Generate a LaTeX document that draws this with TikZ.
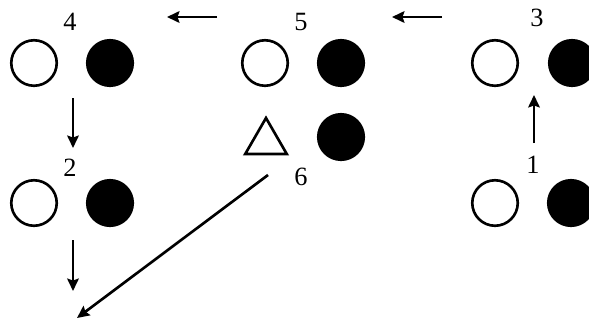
\documentclass[tikz,border=0pt]{standalone}
\usepackage{fontspec}
\setmainfont{Liberation Serif}
\usetikzlibrary{arrows.meta,shapes.geometric}

\begin{document}
\begin{tikzpicture}[>={Stealth[length=7pt,width=6.5pt,inset=1pt]},font=\fontsize{15}{17}\selectfont,
    opendot/.style={circle,draw,line width=1.5pt,minimum size=0.91cm,inner sep=0pt},
    fulldot/.style={opendot,fill=black},
    lab/.style={inner sep=0pt},
    arr/.style={->,line width=1.5pt}]
  \useasboundingbox (0,0) rectangle (11.78,6.40);
  % top row
  \node[opendot] (o4) at (0.68,5.14) {};
  \node[fulldot] (f4) at (2.20,5.14) {};
  \node[opendot] (o5) at (5.30,5.14) {};
  \node[fulldot] (f5) at (6.82,5.14) {};
  \node[opendot] (o3) at (9.90,5.14) {};
  \node[fulldot] (f3) at (11.44,5.14) {};
  % middle
  \node[regular polygon,regular polygon sides=3,draw,line width=1.5pt,
        minimum size=0.96cm,inner sep=0pt] (t6) at (5.32,3.56) {};
  \node[fulldot] (f6) at (6.82,3.66) {};
  % lower row
  \node[opendot] (o2) at (0.68,2.34) {};
  \node[fulldot] (f2) at (2.20,2.34) {};
  \node[opendot] (o1) at (9.90,2.34) {};
  \node[fulldot] (f1) at (11.42,2.34) {};
  % labels
  \node[lab] (l4) at (1.40,5.96) {4};
  \node[lab] (l5) at (6.02,5.96) {5};
  \node[lab] (l3) at (10.74,6.04) {3};
  \node[lab] (l2) at (1.40,3.04) {2};
  \node[lab] (l6) at (6.02,2.86) {6};
  \node[lab] (l1) at (10.66,3.10) {1};
  % arrow ends
  \coordinate (a1) at (4.34,6.06);  \coordinate (b1) at (3.34,6.06);
  \coordinate (a2) at (8.84,6.06);  \coordinate (b2) at (7.84,6.06);
  \coordinate (a3) at (1.46,4.44);  \coordinate (b3) at (1.46,3.44);
  \coordinate (a4) at (10.68,3.54); \coordinate (b4) at (10.68,4.50);
  \coordinate (a5) at (1.46,1.60);  \coordinate (b5) at (1.46,0.58);
  \coordinate (a6) at (5.36,2.90);  \coordinate (b6) at (1.54,0.04);
  \draw[arr] (a1) -- (b1);
  \draw[arr] (a2) -- (b2);
  \draw[arr] (a3) -- (b3);
  \draw[arr] (a4) -- (b4);
  \draw[arr] (a5) -- (b5);
  \draw[arr] (a6) -- (b6);
\end{tikzpicture}
\end{document}
